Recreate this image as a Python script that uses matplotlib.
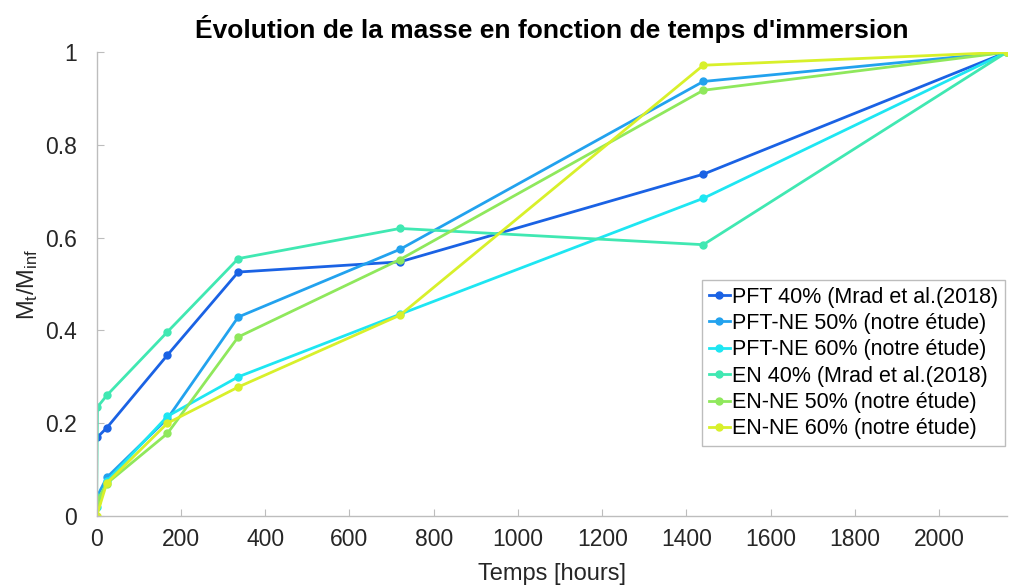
import matplotlib
matplotlib.use("Agg")
import matplotlib.pyplot as plt
from matplotlib.ticker import FormatStrFormatter

plt.rcParams['font.family'] = ['Liberation Sans', 'DejaVu Sans']
plt.rcParams['mathtext.default'] = 'regular'

# temps d'immersion (heures)
t_mrad = [2, 24, 168, 336, 720, 1440, 2160]
t_en40 = [0, 2, 24, 168, 336, 720, 1440, 2160]
t_etude = [0, 24, 168, 336, 720, 1440, 2160]

pft40 = [0.17, 0.19, 0.347, 0.526, 0.548, 0.737, 1.0]
pftne50 = [0.04, 0.083, 0.21, 0.429, 0.575, 0.937, 1.0]
pftne60 = [0.02, 0.075, 0.215, 0.30, 0.435, 0.685, 1.0]
en40 = [0.04, 0.235, 0.26, 0.397, 0.555, 0.62, 0.585, 1.0]
enne50 = [0.03, 0.07, 0.178, 0.386, 0.553, 0.918, 1.0]
enne60 = [0.0, 0.071, 0.20, 0.278, 0.433, 0.972, 1.0]

labels = ['PFT 40% (Mrad et al.(2018)', 'PFT-NE 50% (notre étude)',
          'PFT-NE 60% (notre étude)', 'EN 40% (Mrad et al.(2018)',
          'EN-NE 50% (notre étude)', 'EN-NE 60% (notre étude)']
colors = ['#1a62e4', '#22a2ee', '#1ee6f2', '#40e8b2', '#8fe85c', '#d8f02a']

series = [(t_mrad, pft40), (t_etude, pftne50), (t_etude, pftne60),
          (t_en40, en40), (t_etude, enne50), (t_etude, enne60)]

fig = plt.figure(figsize=(10.1, 5.87), dpi=100)
ax = fig.add_axes([0.0957, 0.121, 0.901, 0.790])

for (t, y), lab, c in zip(series, labels, colors):
    ax.plot(t, y, '-o', color=c, lw=2, ms=5, label=lab)

ax.set_xlim(0, 2160)
ax.set_ylim(0, 1)
ax.set_xticks(range(0, 2001, 200))
ax.set_yticks([0, 0.2, 0.4, 0.6, 0.8, 1])
ax.yaxis.set_major_formatter(FormatStrFormatter('%g'))
ax.spines['top'].set_visible(False)
ax.spines['right'].set_visible(False)
for s in ['left', 'bottom']:
    ax.spines[s].set_color('#bdbdbd')
    ax.spines[s].set_linewidth(1)
ax.tick_params(direction='in', length=5, color='#bdbdbd', labelsize=16.5,
               labelcolor='#262626')
ax.tick_params(axis='x', pad=9)
ax.tick_params(axis='y', pad=14)

ax.set_title("Évolution de la masse en fonction de temps d'immersion",
             fontsize=19, fontweight='bold', pad=10)
ax.set_xlabel('Temps [hours]', fontsize=17, color='#262626', labelpad=8)
ax.set_ylabel(r'M$_t$/M$_{inf}$', fontsize=17, color='#262626', labelpad=4)

leg = ax.legend(loc='lower right', bbox_to_anchor=(0.998, 0.151), fontsize=15.5,
                handlelength=1.0, handletextpad=0.1, borderpad=0.3,
                labelspacing=0.25, fancybox=False, framealpha=1,
                borderaxespad=0)
leg.get_frame().set_edgecolor('#bdbdbd')
leg.get_frame().set_linewidth(1)

fig.savefig('out.png', dpi=100)
